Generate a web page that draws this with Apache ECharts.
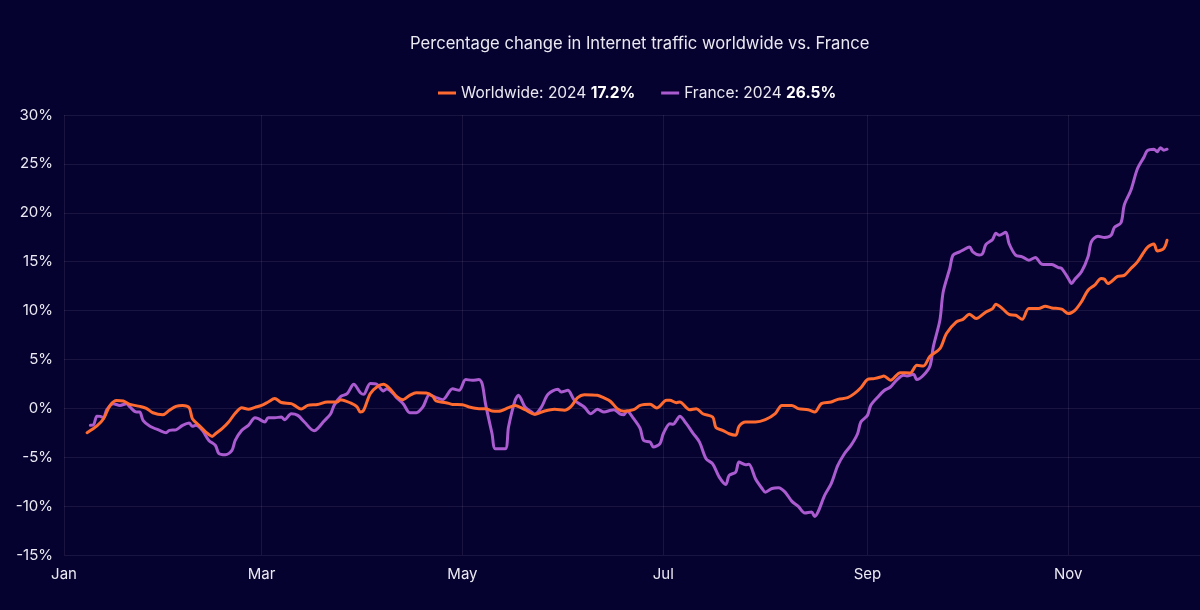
<!DOCTYPE html>
<html>
<head>
<meta charset="utf-8">
<script src="https://cdn.jsdelivr.net/npm/echarts@6/dist/echarts.min.js"></script>
<style>
html,body{margin:0;padding:0;background:#060230;}
#chart{width:1200px;height:610px;}
</style>
</head>
<body>
<div id="chart"></div>
<script>
// Day offsets from 2024-01-01 and percentage values
const worldDay = [7,10,12,14,16,18,20,23,25,27,30,32,34,36,38,39,41,43,45,46,48,50,52,54,56,58,60,62,64,66,69,70,72,74,77,80,83,
  84,87,89,90,91,93,95,97,99,101,103,105,107,110,112,113,116,118,121,123,126,128,130,132,135,137,140,143,146,149,152,154,156,158,162,164,166,
  168,170,173,175,178,180,183,184,186,187,190,192,194,197,198,200,202,204,205,207,210,213,216,218,221,223,226,228,230,233,235,238,240,242,244,246,248,
  249,251,254,257,259,261,263,266,268,271,273,275,277,280,282,283,285,287,289,291,293,296,298,300,303,305,307,309,311,313,315,316,317,320,322,324,326,329,331,332,334,335];
const worldPct = [-2.5,-1.8,-1.06,0.3,0.8,0.75,0.4,0.2,0.0,-0.45,-0.65,-0.2,0.2,0.3,0.07,-1.06,-1.74,-2.4,-2.87,-2.6,-2.08,-1.4,-0.5,0.05,-0.1,0.1,0.3,0.65,1.0,0.6,0.48,0.3,-0.07,0.3,0.4,0.65,0.65,
  0.89,0.55,0.14,-0.38,-0.2,1.5,2.18,2.46,2.0,1.23,0.89,1.33,1.6,1.57,1.23,0.75,0.58,0.4,0.37,0.14,-0.03,-0.03,-0.27,-0.3,0.07,0.3,-0.14,-0.6,-0.27,-0.1,-0.2,0.2,1.1,1.4,1.33,1.06,0.7,
  -0.03,-0.3,-0.14,0.3,0.41,0.03,0.82,0.82,0.58,0.65,-0.14,-0.03,-0.55,-0.89,-1.98,-2.25,-2.6,-2.76,-1.84,-1.4,-1.4,-1.16,-0.55,0.3,0.3,-0.03,-0.14,-0.38,0.48,0.65,0.92,1.09,1.5,2.1,2.94,3.04,3.2,
  3.31,2.87,3.65,3.62,4.4,4.33,5.32,6.1,7.65,8.84,9.1,9.62,9.18,9.86,10.2,10.65,10.2,9.6,9.52,9.1,10.2,10.2,10.44,10.27,10.14,9.7,10.03,10.9,12.08,12.6,13.28,13.2,12.76,13.5,13.6,14.3,14.98,16.45,16.8,16.1,16.35,17.2];

const franceDay = [8,9,10,11,12,13,15,17,19,20,22,23,24,26,29,31,32,34,36,38,39,40,42,44,46,47,49,51,52,54,56,58,59,61,62,64,66,67,69,71,73,76,77,79,81,82,84,
  86,88,90,91,93,95,97,98,100,101,103,105,107,109,111,113,115,118,120,122,124,126,127,128,130,131,134,135,137,138,140,142,143,145,147,150,151,153,155,158,160,162,
  164,166,167,169,170,171,173,175,176,178,179,181,182,184,185,186,187,189,191,193,195,197,199,201,202,204,205,207,208,210,212,213,215,217,219,221,223,225,227,228,229,231,233,235,237,239,241,242,244,245,247,249,
  251,253,255,256,258,259,261,263,264,266,267,269,270,272,273,275,276,278,279,280,282,283,284,286,287,289,291,293,295,297,300,302,303,305,306,307,309,311,312,314,316,318,319,321,322,324,326,328,329,331,332,333,334,335];
const francePct = [-1.74,-1.67,-0.8,-0.82,-0.96,-0.14,0.48,0.3,0.48,0.14,-0.38,-0.38,-1.23,-1.8,-2.25,-2.5,-2.25,-2.2,-1.74,-1.5,-1.84,-1.74,-2.25,-3.28,-3.8,-4.6,-4.74,-4.3,-3.28,-2.25,-1.74,-0.96,-1.06,-1.4,-0.96,-0.96,-0.89,-1.16,-0.55,-0.72,-1.4,-2.3,-2.08,-1.3,-0.55,0.3,1.2,
  1.5,2.46,1.6,1.43,2.55,2.46,1.77,2.0,1.5,1.1,0.48,-0.44,-0.44,0.14,1.4,1.1,0.89,2.0,1.84,2.94,2.87,2.94,2.5,0.48,-2.6,-4.13,-4.13,-1.9,0.82,1.33,0.14,-0.38,-0.6,0.14,1.43,1.95,1.67,1.84,0.82,0.14,-0.55,-0.1,
  -0.38,-0.2,-0.14,-0.6,-0.65,-0.27,-1.06,-2.08,-3.28,-3.45,-3.96,-3.6,-2.6,-1.57,-1.64,-1.23,-0.82,-1.57,-2.53,-3.45,-5.15,-5.67,-7.03,-7.78,-6.86,-6.52,-5.5,-5.77,-5.73,-7.2,-8.2,-8.57,-8.2,-8.12,-8.57,-9.49,-10.03,-10.7,-10.6,-11.06,-10.6,-8.9,-7.7,-5.84,-4.64,-3.79,-2.6,-1.4,-0.72,0.3,1.1,1.8,
  2.18,2.94,3.38,3.31,3.48,2.94,3.38,4.33,6.28,9.0,11.9,14.3,15.67,16.0,16.18,16.5,16.0,15.67,15.84,16.76,17.27,17.9,17.7,18.0,16.86,15.67,15.5,15.15,15.43,14.74,14.7,14.4,14.3,13.28,12.76,13.2,13.96,15.5,17.03,17.6,17.47,17.7,18.5,18.98,20.8,22.3,24.5,25.7,26.35,26.5,26.25,26.65,26.4,26.5];

const worldLabel = 'Worldwide: 2024';
const franceLabel = 'France: 2024';
const worldLast = '17.2%';
const franceLast = '26.5%';
const titleText = 'Percentage change in Internet traffic worldwide vs. France';
const monthNames = ['Jan','Feb','Mar','Apr','May','Jun','Jul','Aug','Sep','Oct','Nov','Dec'];
const labelMonths = [0,2,4,6,8,10];
const axisDays = 346; // Jan 1 .. Dec 11, 2024
const yMin = -15, yMax = 30, yStep = 5;

const categories = [];
for (let i = 0; i < axisDays; i++) {
  const d = new Date(Date.UTC(2024, 0, 1 + i));
  categories.push(d.toISOString().slice(0, 10));
}
function isTick(idx) {
  const d = new Date(categories[idx] + 'T00:00:00Z');
  return d.getUTCDate() === 1 && labelMonths.indexOf(d.getUTCMonth()) >= 0;
}
const worldData = worldDay.map((d, i) => [d, worldPct[i]]);
const franceData = franceDay.map((d, i) => [d, francePct[i]]);

const chart = echarts.init(document.getElementById('chart'), null, {renderer: 'canvas'});
const font = 'Inter, "Noto Sans", sans-serif';
chart.setOption({
  backgroundColor: '#060230',
  animation: false,
  title: {
    text: titleText,
    left: 405, top: 30,
    textStyle: {color: '#ebeaf3', fontSize: 16.6, fontWeight: 'normal', fontFamily: font}
  },
  legend: {
    top: 80, left: 433,
    icon: 'rect', itemWidth: 18, itemHeight: 3, itemGap: 26,
    data: [worldLabel, franceLabel],
    formatter: function (name) {
      return name === worldLabel ? '{n|' + name + '} {b|' + worldLast + '}' : '{n|' + name + '} {b|' + franceLast + '}';
    },
    textStyle: {
      color: '#ebeaf3', fontFamily: font, fontSize: 15.5,
      rich: {
        n: {color: '#ebeaf3', fontSize: 15.5, fontFamily: font},
        b: {color: '#ffffff', fontSize: 15.5, fontWeight: 'bold', fontFamily: font}
      }
    }
  },
  grid: {left: 64, right: 0, top: 115, bottom: 55},
  xAxis: {
    type: 'category',
    data: categories,
    boundaryGap: false,
    axisLine: {show: false},
    axisTick: {show: false},
    axisLabel: {
      interval: isTick,
      color: '#ebeaf3', fontSize: 15, fontFamily: font, margin: 12,
      formatter: function (v) { return monthNames[parseInt(v.slice(5, 7), 10) - 1]; }
    },
    splitLine: {show: true, interval: isTick, lineStyle: {color: 'rgba(255,255,255,0.08)', width: 1}}
  },
  yAxis: {
    type: 'value', min: yMin, max: yMax, interval: yStep,
    axisLine: {show: false}, axisTick: {show: false},
    axisLabel: {color: '#ebeaf3', fontSize: 15, fontFamily: font, margin: 11, formatter: '{value}%'},
    splitLine: {lineStyle: {color: 'rgba(255,255,255,0.08)', width: 1}}
  },
  series: [
    {name: worldLabel, type: 'line', data: worldData, showSymbol: false, smooth: 0.3,
     color: '#fe6a2f', lineStyle: {width: 3, color: '#fe6a2f', cap: 'round', join: 'round'}, z: 3},
    {name: franceLabel, type: 'line', data: franceData, showSymbol: false, smooth: 0.3,
     color: '#a95bcf', lineStyle: {width: 3, color: '#a95bcf', cap: 'round', join: 'round'}, z: 2}
  ]
});
</script>
</body>
</html>
